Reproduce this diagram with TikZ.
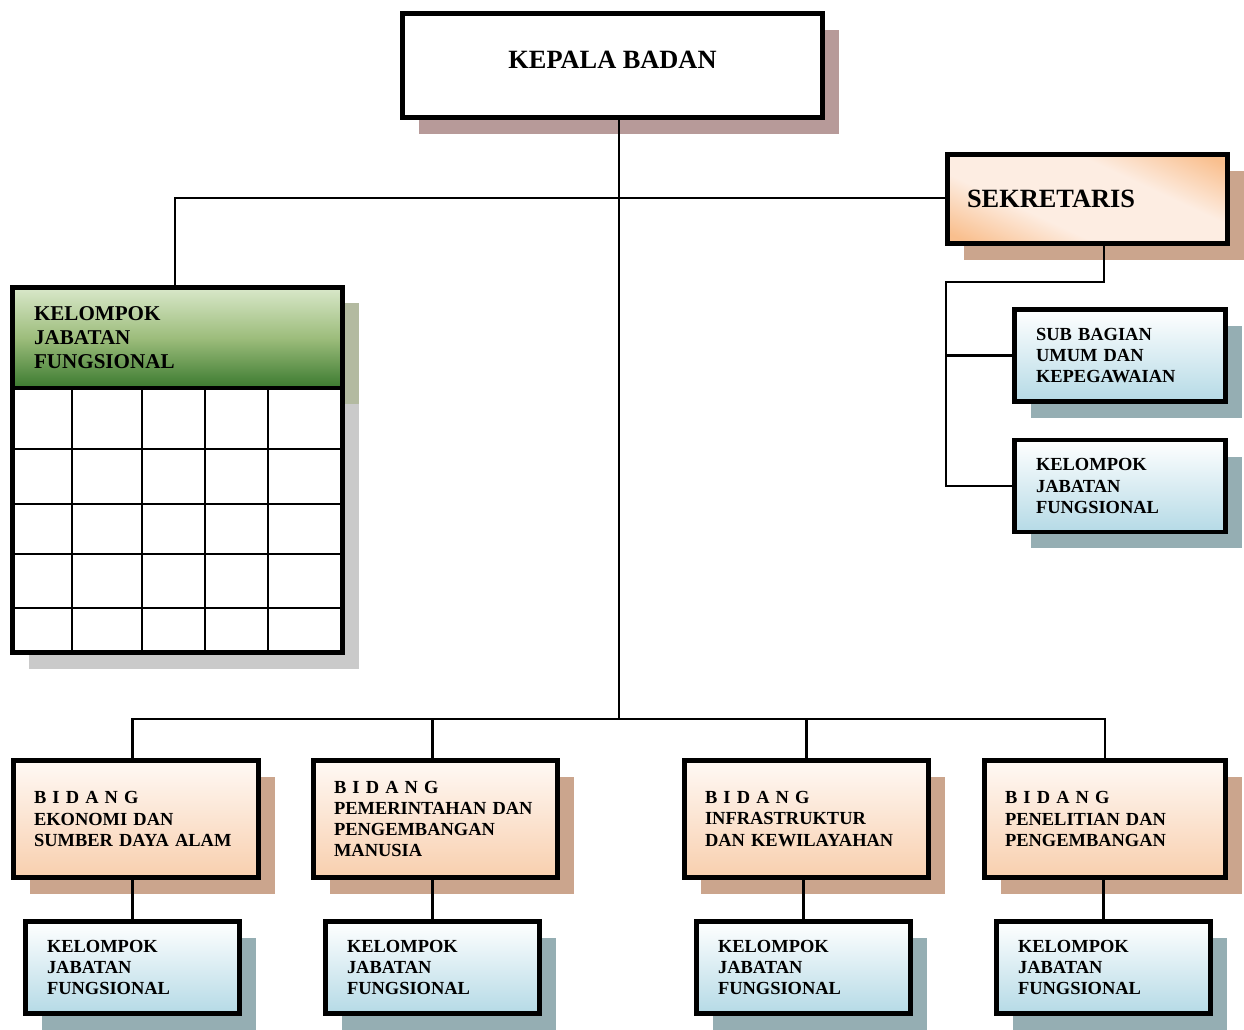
\documentclass[tikz,border=0pt]{standalone}
\usepackage{fontspec}
\setmainfont{Liberation Serif}
\usetikzlibrary{shadows}
\definecolor{bidtop}{HTML}{FFF9F5}
\definecolor{bidbot}{HTML}{F8CFAE}
\definecolor{keltop}{HTML}{FFFFFF}
\definecolor{kelbot}{HTML}{B5DAE6}
\definecolor{sekdark}{HTML}{F9BF8E}
\definecolor{seklight}{HTML}{FDEDE2}
\definecolor{grntop}{HTML}{D9E8CA}
\definecolor{grnmid}{HTML}{9DBD7C}
\definecolor{grnbot}{HTML}{3B7A2F}
\definecolor{shdkep}{HTML}{B79A99}
\definecolor{shdbid}{HTML}{CBA58D}
\definecolor{shdkel}{HTML}{95AEB3}
\definecolor{shdgray}{HTML}{CACACA}
\definecolor{shdgrn}{HTML}{B3BAA0}
\pgfdeclareverticalshading{sekshade}{100bp}{color(0bp)=(sekdark); color(20bp)=(sekdark);
  color(38bp)=(seklight); color(62bp)=(seklight); color(80bp)=(sekdark); color(100bp)=(sekdark)}
\begin{document}
\begin{tikzpicture}[x=0.02cm,y=-0.02cm,
  box/.style={draw=black, line width=2.8pt, outer sep=0pt, rectangle, align=left},
  conn/.style={draw=black, line width=1.4pt},
  gridline/.style={draw=black, line width=1.1pt},
  shd/.style={drop shadow={shadow xshift=0.33cm, shadow yshift=-0.33cm, fill=#1, opacity=1}},
  smallfont/.style={font=\bfseries\fontsize{10.5}{12}\selectfont},
  bid/.style={box, smallfont, minimum height=2.34cm, inner xsep=0.41cm,
    top color=bidtop, bottom color=bidbot, shd=shdbid},
  kel/.style={box, smallfont, minimum height=1.84cm, inner xsep=0.43cm,
    top color=keltop, bottom color=kelbot, shd=shdkel},
  kelbottom/.style={kel, minimum width=4.28cm, text width=3.42cm},
  kelright/.style={kel, minimum width=4.22cm, text width=3.36cm}
]
\useasboundingbox (0,0) rectangle (1244,1030);

% named coordinates for connector corners
\coordinate (bus) at (619,719);
\coordinate (lt) at (175,198);
\coordinate (sj) at (1104,282);
\coordinate (sl) at (946,282);

% ---- Kepala Badan ----
\node[box, align=center, minimum width=8.4cm, minimum height=2.08cm, fill=white,
  font=\bfseries\fontsize{15}{18}\selectfont, text depth=6pt, shd=shdkep]
  (kepala) at (612.5,65.5) {KEPALA BADAN};

% ---- Sekretaris ----
\node[box, minimum width=5.6cm, minimum height=1.78cm, text width=4.82cm, inner xsep=0.39cm,
  font=\bfseries\fontsize{15}{18}\selectfont,
  shade, shading=sekshade, shading angle=-25, shd=shdbid]
  (sek) at (1087.5,199) {SEKRETARIS};

\node[kelright] (sub) at (1120,355.5) {SUB BAGIAN\\UMUM DAN\\KEPEGAWAIAN};
\node[kelright] (kr) at (1120,486) {KELOMPOK\\JABATAN\\FUNGSIONAL};

% ---- Kelompok jabatan fungsional (left, with table) ----
\fill[shdgray] (28.5,303.5) rectangle (358.5,668.5);
\fill[shdgrn] (342.5,303.5) rectangle (358.5,404);
\fill[white] (12.5,287.5) rectangle (342.5,652.5);
\node[box, font=\bfseries\fontsize{12}{13.6}\selectfont, minimum width=6.6cm, minimum height=2.01cm,
  text width=5.74cm, inner xsep=0.43cm, top color=grntop, bottom color=grnbot, middle color=grnmid]
  (green) at (177.5,337.75) {KELOMPOK\\JABATAN\\FUNGSIONAL};
\coordinate (gridbr) at (342.5,652.5);
\foreach \gx in {72,142,205,268} \draw[gridline] (\gx,388) -- (\gx,652.5);
\foreach \gy in {449,504,554,608} \draw[gridline] (12.5,\gy) -- (342.5,\gy);
\draw[line width=2.8pt] (green.south west) rectangle (gridbr);
\draw[line width=2.8pt] (green.north west) rectangle (green.south east);

% ---- Bidang ----
\node[bid, minimum width=4.90cm, text width=4.08cm] (b1) at (136,819)
  {B I D A N G\\EKONOMI DAN\\SUMBER DAYA ALAM};
\node[bid, minimum width=4.88cm, text width=4.06cm] (b2) at (435.5,819)
  {B I D A N G\\PEMERINTAHAN DAN\\PENGEMBANGAN\\MANUSIA};
\node[bid, minimum width=4.88cm, text width=4.06cm] (b3) at (806.5,819)
  {B I D A N G\\INFRASTRUKTUR\\DAN KEWILAYAHAN};
\node[bid, minimum width=4.82cm, text width=4.00cm] (b4) at (1105,819)
  {B I D A N G\\PENELITIAN DAN\\PENGEMBANGAN};

% ---- Kelompok under each Bidang ----
\node[kelbottom] (k1) at (132.5,967.5) {KELOMPOK\\JABATAN\\FUNGSIONAL};
\node[kelbottom] (k2) at (432.5,967.5) {KELOMPOK\\JABATAN\\FUNGSIONAL};
\node[kelbottom] (k3) at (803.5,967.5) {KELOMPOK\\JABATAN\\FUNGSIONAL};
\node[kelbottom] (k4) at (1103.5,967.5) {KELOMPOK\\JABATAN\\FUNGSIONAL};

% ---- connectors ----
\draw[conn] (kepala.south -| bus) -- (bus);
\draw[conn] (green.north -| lt) -- (lt) -- (lt -| sek.west) -- (sek.west);
\draw[conn] (sek.south -| sj) -- (sj) -- (sl) |- (kr.west);
\draw[conn] (sl |- sub.west) -- (sub.west);
\draw[conn] (k1.north |- b1.north) -- (k1.north |- bus) -- (b4.north |- bus) -- (b4.north);
\draw[conn] (k2.north |- b2.north) -- (k2.north |- bus);
\draw[conn] (b3.north) -- (b3.north |- bus);
\draw[conn] (k1.north |- b1.south) -- (k1.north);
\draw[conn] (k2.north |- b2.south) -- (k2.north);
\draw[conn] (k3.north |- b3.south) -- (k3.north);
\draw[conn] (k4.north |- b4.south) -- (k4.north);
\end{tikzpicture}
\end{document}
